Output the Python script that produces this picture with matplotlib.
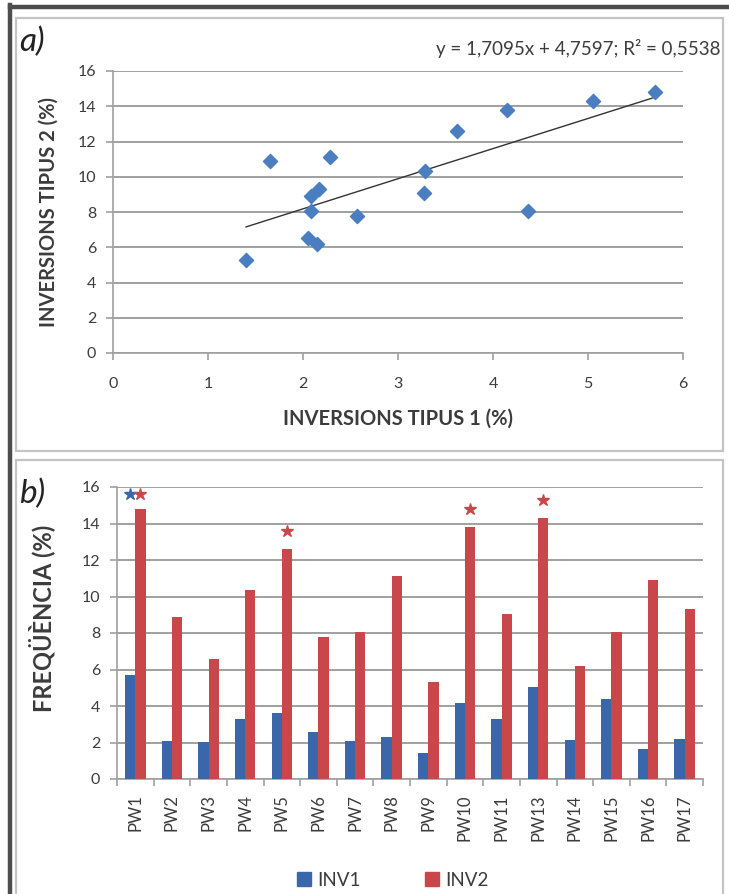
import numpy as np
import matplotlib.pyplot as plt
from matplotlib.lines import Line2D
from matplotlib.patches import Rectangle

plt.rcParams['font.family'] = ['Lato', 'DejaVu Sans']

# dades
pous = ['PW1', 'PW2', 'PW3', 'PW4', 'PW5', 'PW6', 'PW7', 'PW8',
        'PW9', 'PW10', 'PW11', 'PW13', 'PW14', 'PW15', 'PW16', 'PW17']
inv1 = [5.7, 2.08, 2.05, 3.28, 3.62, 2.57, 2.08, 2.28,
        1.4, 4.15, 3.27, 5.05, 2.15, 4.37, 1.65, 2.17]
inv2 = [14.8, 8.9, 6.55, 10.35, 12.6, 7.8, 8.05, 11.1,
        5.3, 13.8, 9.05, 14.3, 6.2, 8.05, 10.9, 9.3]
pendent = 1.7095
intercept = 4.7597
r2 = 0.5538
# estrelles (significatiu)
estrelles_inv1 = {'PW1': 15.6}
estrelles_inv2 = {'PW1': 15.6, 'PW5': 13.6, 'PW10': 14.8, 'PW13': 15.3}

blau = '#3A67AA'
blau_punt = '#4A7EC0'
vermell = '#C9474A'
gris_txt = '#3C3C3C'
gris_graella = '#A0A0A0'

W, H = 729, 894
fig = plt.figure(figsize=(W / 100, H / 100), dpi=100)


def rect(x0, y0, x1, y1):
    # pixels (des de dalt) -> fraccio de figura
    return [x0 / W, 1 - y1 / H, (x1 - x0) / W, (y1 - y0) / H]


# marcs
fig.add_artist(Rectangle((16 / W, 1 - 451 / H), (723 - 16) / W, (451 - 18) / H,
                         transform=fig.transFigure, fill=False, ec='#C4C4C4', lw=1.6))
fig.add_artist(Rectangle((16 / W, 1 - 900 / H), (723 - 16) / W, (900 - 460) / H,
                         transform=fig.transFigure, fill=False, ec='#C4C4C4', lw=1.6))
fig.add_artist(Line2D([10 / W, 1], [1 - 7 / H, 1 - 7 / H], transform=fig.transFigure,
                      color='#4D4D4D', lw=3.2))
fig.add_artist(Line2D([10 / W, 10 / W], [1 - 5 / H, 0], transform=fig.transFigure,
                      color='#4D4D4D', lw=3.2))


def estil(ax):
    ax.spines['top'].set_visible(False)
    ax.spines['right'].set_visible(False)
    for s in ['left', 'bottom']:
        ax.spines[s].set_color(gris_graella)
        ax.spines[s].set_linewidth(1.2)
    ax.grid(axis='y', color=gris_graella, lw=1.4)
    ax.set_axisbelow(True)
    ax.tick_params(colors=gris_graella, labelcolor=gris_txt, labelsize=11.5,
                   length=5, width=1.2)
    ax.tick_params(axis='y', pad=7)


# a) dispersio
ax1 = fig.add_axes(rect(113, 71, 683, 353))
estil(ax1)
ax1.scatter(inv1, inv2, marker='D', s=52, color=blau_punt, zorder=3)
xs = np.array([min(inv1), max(inv1)])
ax1.plot(xs, pendent * xs + intercept, color='#333333', lw=1.0, zorder=2)
ax1.set_xlim(0, 6)
ax1.set_ylim(0, 16)
ax1.set_xticks(range(0, 7))
ax1.set_yticks(range(0, 17, 2))
ax1.tick_params(axis='x', pad=12)
ax1.set_xlabel('INVERSIONS TIPUS 1 (%)', fontsize=14.5, fontweight='bold',
               color=gris_txt, labelpad=13)
ax1.set_ylabel('INVERSIONS TIPUS 2 (%)', fontsize=14.5, fontweight='bold',
               color=gris_txt, labelpad=14)
fig.text(720 / W, 1 - 48 / H,
         'y = {}x + {}; R² = {}'.format(pendent, intercept, r2).replace('.', ','),
         ha='right', va='center', fontsize=13.5, color=gris_txt)
fig.text(19 / W, 1 - 42 / H, 'a)', fontsize=24, style='italic', color='#222222',
         ha='left', va='center')

# b) barres
ax2 = fig.add_axes(rect(117, 487, 703, 779))
estil(ax2)
x = np.arange(len(pous))
w = 0.28
ax2.bar(x - w / 2, inv1, w, color=blau, zorder=3, label='INV1')
ax2.bar(x + w / 2, inv2, w, color=vermell, zorder=3, label='INV2')
for p, y in estrelles_inv1.items():
    ax2.plot(pous.index(p) - w / 2, y, marker='*', ms=9, color=blau, zorder=4,
             clip_on=False)
for p, y in estrelles_inv2.items():
    ax2.plot(pous.index(p) + w / 2, y, marker='*', ms=9, color=vermell, zorder=4,
             clip_on=False)
ax2.set_xlim(-0.5, len(pous) - 0.5)
ax2.set_ylim(0, 16)
ax2.set_yticks(range(0, 17, 2))
ax2.set_xticks(x)
ax2.set_xticklabels(pous, rotation=90, fontsize=12)
ax2.set_xticks(np.arange(-0.5, len(pous)), minor=True)
ax2.tick_params(axis='x', which='major', length=0, pad=11)
ax2.tick_params(axis='x', which='minor', length=5, width=1.2, color=gris_graella)
ax2.set_ylabel('FREQÜÈNCIA (%)', fontsize=17, fontweight='bold',
               color=gris_txt, labelpad=11)
ax2.yaxis.set_label_coords(-0.105, 0.55)
fig.text(19 / W, 1 - 494 / H, 'b)', fontsize=24, style='italic', color='#222222',
         ha='left', va='center')

hs = [Line2D([], [], marker='s', ls='', ms=10, color=blau),
      Line2D([], [], marker='s', ls='', ms=10, color=vermell)]
fig.legend(hs, ['INV1', 'INV2'], loc='center', bbox_to_anchor=(391 / W, 1 - 880 / H),
           ncol=2, frameon=False, fontsize=13.5, handletextpad=0.1, handlelength=1.2,
           columnspacing=3.2, labelcolor=gris_txt)

fig.savefig('out.png', dpi=100)
